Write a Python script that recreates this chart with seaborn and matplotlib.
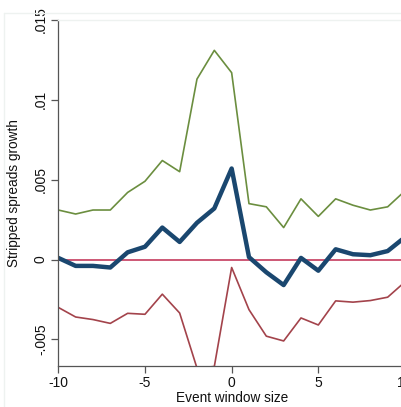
import matplotlib
matplotlib.use("Agg")
import matplotlib.pyplot as plt
from matplotlib.lines import Line2D
import numpy as np
import pandas as pd
import seaborn as sns

# Event-window estimates of stripped spread growth with confidence band
window = list(range(-10, 11))
mean_growth = [0.0001, -0.0004, -0.0004, -0.0005, 0.00045, 0.0008, 0.0020, 0.0011,
               0.0023, 0.0032, 0.0057, 0.00015, -0.0008, -0.0016, 0.0001, -0.0007,
               0.00064, 0.00033, 0.00027, 0.00053, 0.0014]
upper_ci = [0.0031, 0.00285, 0.0031, 0.0031, 0.0042, 0.0049, 0.0062, 0.0055,
            0.0113, 0.0131, 0.0117, 0.0035, 0.0033, 0.0020, 0.0038, 0.0027,
            0.0038, 0.0034, 0.0031, 0.0033, 0.0043]
lower_ci = [-0.0030, -0.0036, -0.00376, -0.0040, -0.00337, -0.00343, -0.00217, -0.00335,
            -0.0068, -0.0067, -0.0005, -0.00314, -0.0048, -0.0051, -0.00366, -0.0041,
            -0.00259, -0.00267, -0.00257, -0.00236, -0.0014]
zero_ref = [0.0] * len(window)

y_ticks = [-0.005, 0.0, 0.005, 0.01, 0.015]
y_tick_labels = ["-.005", "0", ".005", ".01", ".015"]
x_ticks = [-10, -5, 0, 5, 10]
x_tick_labels = ["-10", "-5", "0", "5", "10"]

df = pd.DataFrame({"window": window, "mean": mean_growth, "upper": upper_ci,
                   "lower": lower_ci, "zero": zero_ref})

sns.set_style("white")
plt.rcParams["font.family"] = ["Liberation Sans", "DejaVu Sans"]

W, H = 401, 407
fig = plt.figure(figsize=(W / 100, H / 100), dpi=100)
fig.patch.set_facecolor("white")

# light outer graph-region border
fig.add_artist(Line2D([4 / W, 4 / W], [0, 1 - 13 / H], transform=fig.transFigure,
                      color="#eef2f0", lw=1.0))
fig.add_artist(Line2D([4 / W, 1], [1 - 13 / H, 1 - 13 / H], transform=fig.transFigure,
                      color="#eef2f0", lw=1.0))

left, right, top, bottom = 58.3, 405.0, 20.0, 365.7
ax = fig.add_axes([left / W, 1 - bottom / H, (right - left) / W, (bottom - top) / H])
ax.set_facecolor("white")

sns.lineplot(data=df, x="window", y="zero", ax=ax, color="#c94a6a", lw=1.3)
sns.lineplot(data=df, x="window", y="upper", ax=ax, color="#6b8e3f", lw=1.2)
sns.lineplot(data=df, x="window", y="lower", ax=ax, color="#a3434b", lw=1.2)
sns.lineplot(data=df, x="window", y="mean", ax=ax, color="#1a476f", lw=3.2)

ax.set_xlim(-10, 10)
ax.set_ylim(-0.00665, 0.015)

ax.set_yticks(y_ticks)
ax.set_yticklabels(y_tick_labels, rotation=90, va="center")
ax.set_xticks(x_ticks)
ax.set_xticklabels(x_tick_labels)

ax.tick_params(axis="both", direction="out", length=5, width=0.9, color="#555555",
               labelsize=10, labelcolor="#111111", pad=2.5, left=True, bottom=True)

ax.spines["right"].set_visible(False)
ax.spines["top"].set_color("#eef2f0")
ax.spines["top"].set_linewidth(1.0)
for side in ["left", "bottom"]:
    ax.spines[side].set_color("#555555")
    ax.spines[side].set_linewidth(0.9)

ax.set_xlabel("Event window size", fontsize=9.8, color="#111111")
ax.set_ylabel("Stripped spreads growth", fontsize=9.8, color="#111111")
ax.xaxis.set_label_coords(0.5, 1 - (397.5 - top) / (bottom - top))
ax.xaxis.label.set_va("center")
ax.yaxis.set_label_coords((14 - left) / (right - left), 0.5)
ax.yaxis.label.set_va("center")

fig.savefig("out.png", dpi=100, facecolor="white")
